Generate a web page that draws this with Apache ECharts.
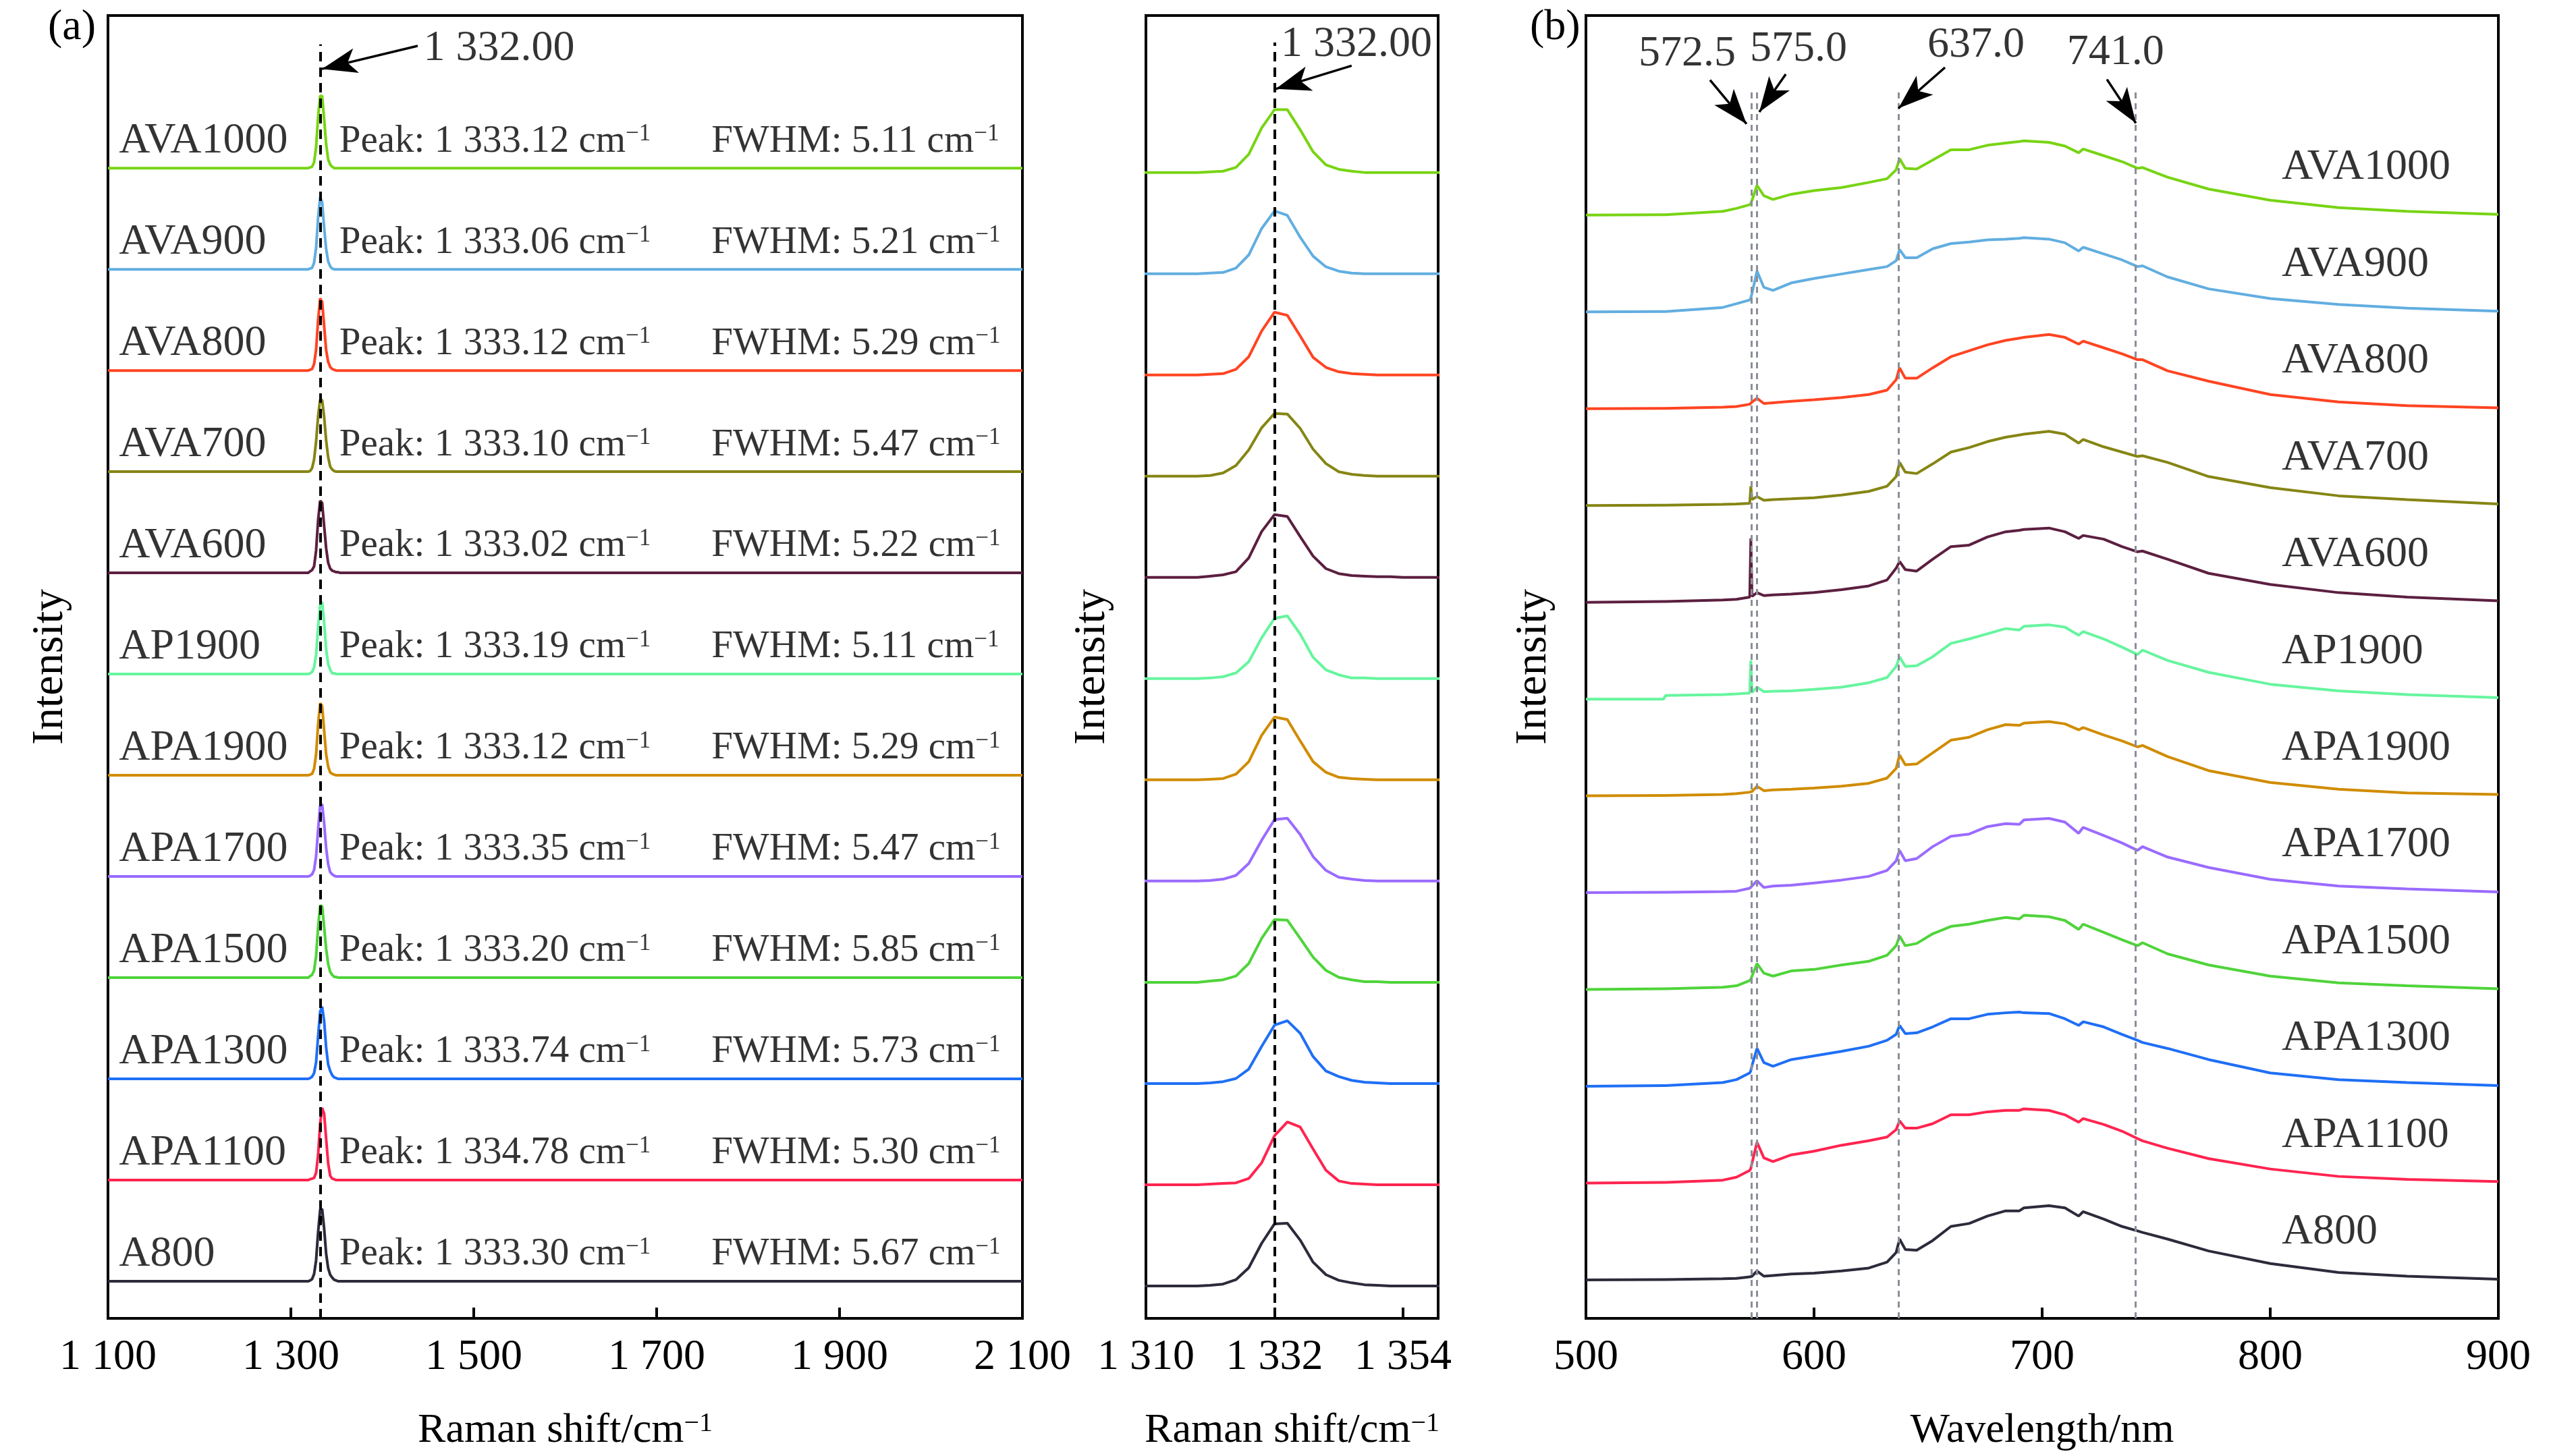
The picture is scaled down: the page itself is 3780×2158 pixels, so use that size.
<!DOCTYPE html>
<html>
<head>
<meta charset="utf-8">
<title>Raman and PL spectra</title>
<script src="https://cdn.jsdelivr.net/npm/echarts@6/dist/echarts.min.js"></script>
<style>
  html, body { margin: 0; padding: 0; background: #fff; }
  #chart { width: 3780px; height: 2158px; }
</style>
</head>
<body>
<div id="chart"></div>
<script>
// samples, listed bottom to top
const samples = ['A800', 'APA1100', 'APA1300', 'APA1500', 'APA1700', 'APA1900',
  'AP1900', 'AVA600', 'AVA700', 'AVA800', 'AVA900', 'AVA1000'];
const colors = ['#2b2b3b', '#ff2450', '#1f6ff5', '#4fd43a', '#9a6bff', '#d08c00',
  '#66f59e', '#5c1f40', '#858514', '#ff4422', '#62aee0', '#78d414'];
const peakShift = [1333.30, 1334.78, 1333.74, 1333.20, 1333.35, 1333.12,
  1333.19, 1333.02, 1333.10, 1333.12, 1333.06, 1333.12];
const fwhm = [5.67, 5.30, 5.73, 5.85, 5.47, 5.29, 5.11, 5.22, 5.47, 5.29, 5.21, 5.11];

// Raman shift (cm-1), normalised diamond peak
const ramanX = [1100, 1310, 1312.2, 1314.4, 1316.6, 1318.8, 1321.0, 1323.2, 1325.4, 1327.6,
  1329.8, 1332.0, 1334.2, 1336.4, 1338.6, 1340.8, 1343.0, 1345.2, 1347.4, 1349.6,
  1351.8, 1354.0, 1356.2, 1358.4, 1360, 2100];
const ramanA800 = [0, 0, 0, 0, 0, 0, 0.01, 0.03, 0.10, 0.29, 0.68, 0.99, 1.0, 0.73, 0.38, 0.18, 0.09, 0.05, 0.02, 0.01, 0, 0, 0, 0, 0, 0];
const ramanAPA1100 = [0, 0, 0, 0, 0, 0, 0.01, 0.02, 0.03, 0.10, 0.35, 0.78, 1.0, 0.92, 0.57, 0.23, 0.06, 0.02, 0.01, 0, 0, 0, 0, 0, 0, 0];
const ramanAPA1300 = [0, 0, 0, 0, 0, 0, 0.01, 0.03, 0.08, 0.23, 0.59, 0.93, 1.0, 0.80, 0.43, 0.20, 0.11, 0.05, 0.02, 0.01, 0, 0, 0, 0, 0, 0];
const ramanAPA1500 = [0, 0, 0, 0, 0, 0, 0.02, 0.04, 0.10, 0.30, 0.70, 1.0, 0.99, 0.70, 0.40, 0.19, 0.08, 0.04, 0.01, 0.01, 0, 0, 0, 0, 0, 0];
const ramanAPA1700 = [0, 0, 0, 0, 0, 0, 0.01, 0.03, 0.09, 0.28, 0.65, 0.98, 1.0, 0.74, 0.39, 0.17, 0.06, 0.03, 0.01, 0, 0, 0, 0, 0, 0, 0];
const ramanAPA1900 = [0, 0, 0, 0, 0, 0, 0.01, 0.02, 0.09, 0.29, 0.71, 1.0, 0.96, 0.62, 0.29, 0.12, 0.04, 0.02, 0.01, 0, 0, 0, 0, 0, 0, 0];
const ramanAP1900 = [0, 0, 0, 0, 0, 0, 0.01, 0.03, 0.09, 0.27, 0.65, 0.96, 1.0, 0.71, 0.34, 0.14, 0.06, 0.01, 0.01, 0, 0, 0, 0, 0, 0, 0];
const ramanAVA600 = [0, 0, 0, 0, 0, 0, 0.02, 0.04, 0.09, 0.31, 0.73, 1.0, 0.97, 0.65, 0.34, 0.14, 0.06, 0.03, 0.02, 0.01, 0.01, 0, 0, 0, 0, 0];
const ramanAVA700 = [0, 0, 0, 0, 0, 0, 0.01, 0.05, 0.17, 0.42, 0.77, 1.0, 0.99, 0.76, 0.43, 0.20, 0.07, 0.03, 0.01, 0, 0, 0, 0, 0, 0, 0];
const ramanAVA800 = [0, 0, 0, 0, 0, 0, 0.01, 0.02, 0.09, 0.29, 0.70, 1.0, 0.95, 0.62, 0.28, 0.12, 0.05, 0.02, 0.01, 0, 0, 0, 0, 0, 0, 0];
const ramanAVA900 = [0, 0, 0, 0, 0, 0, 0.01, 0.02, 0.09, 0.30, 0.72, 1.0, 0.93, 0.58, 0.28, 0.11, 0.04, 0.01, 0, 0, 0, 0, 0, 0, 0, 0];
const ramanAVA1000 = [0, 0, 0, 0, 0, 0, 0.01, 0.02, 0.08, 0.29, 0.71, 1.0, 1.0, 0.68, 0.33, 0.12, 0.05, 0.02, 0, 0, 0, 0, 0, 0, 0, 0];
const ramanSets = [ramanA800, ramanAPA1100, ramanAPA1300, ramanAPA1500, ramanAPA1700, ramanAPA1900,
  ramanAP1900, ramanAVA600, ramanAVA700, ramanAVA800, ramanAVA900, ramanAVA1000];

// PL wavelength (nm), normalised intensity
const wlX = [500, 534, 535, 560, 566, 571.8, 572.3, 572.8, 575, 578,
  582, 590, 600, 612, 624, 632, 636, 637.5, 640, 645,
  652, 660, 668, 676, 684, 690, 692, 703, 710, 716,
  718, 727, 735, 741.8, 744, 755, 773, 800, 830, 860, 900];
const plA800 = [0, 0.005, 0.005, 0.015, 0.02, 0.04, 0.045, 0.05, 0.12, 0.05,
  0.06, 0.08, 0.09, 0.12, 0.16, 0.24, 0.37, 0.55, 0.41, 0.40,
  0.53, 0.72, 0.76, 0.86, 0.93, 0.93, 0.97, 1.0, 0.97, 0.86,
  0.92, 0.82, 0.72, 0.66, 0.64, 0.55, 0.39, 0.22, 0.10, 0.05, 0.01];
const plAPA1100 = [0, 0.01, 0.01, 0.04, 0.08, 0.17, 0.20, 0.27, 0.55, 0.34,
  0.29, 0.38, 0.43, 0.51, 0.57, 0.62, 0.72, 0.84, 0.74, 0.74,
  0.80, 0.92, 0.92, 0.96, 0.98, 0.98, 1.0, 0.98, 0.92, 0.82,
  0.87, 0.79, 0.70, 0.60, 0.57, 0.47, 0.33, 0.19, 0.09, 0.05, 0.02];
const plAPA1300 = [0, 0.01, 0.01, 0.05, 0.09, 0.18, 0.21, 0.28, 0.51, 0.32,
  0.27, 0.36, 0.41, 0.47, 0.54, 0.62, 0.70, 0.82, 0.71, 0.72,
  0.80, 0.91, 0.91, 0.97, 0.99, 1.0, 0.99, 0.98, 0.91, 0.82,
  0.87, 0.80, 0.70, 0.62, 0.59, 0.51, 0.36, 0.18, 0.09, 0.05, 0.01];
const plAPA1500 = [0, 0.01, 0.01, 0.03, 0.05, 0.12, 0.14, 0.18, 0.35, 0.22,
  0.18, 0.25, 0.27, 0.33, 0.38, 0.46, 0.59, 0.72, 0.59, 0.62,
  0.75, 0.85, 0.88, 0.93, 0.97, 0.95, 1.0, 0.98, 0.93, 0.81,
  0.88, 0.77, 0.67, 0.59, 0.63, 0.48, 0.33, 0.18, 0.09, 0.05, 0.01];
const plAPA1700 = [0, 0.005, 0.005, 0.015, 0.02, 0.06, 0.07, 0.09, 0.16, 0.07,
  0.09, 0.10, 0.13, 0.17, 0.22, 0.30, 0.43, 0.57, 0.43, 0.46,
  0.62, 0.76, 0.79, 0.89, 0.93, 0.92, 0.98, 1.0, 0.95, 0.80,
  0.88, 0.77, 0.67, 0.57, 0.62, 0.48, 0.34, 0.18, 0.09, 0.05, 0.01];
const plAPA1900 = [0, 0.005, 0.005, 0.02, 0.03, 0.05, 0.055, 0.06, 0.13, 0.07,
  0.08, 0.09, 0.105, 0.13, 0.17, 0.24, 0.37, 0.55, 0.42, 0.43,
  0.58, 0.75, 0.79, 0.89, 0.96, 0.95, 0.98, 1.0, 0.97, 0.89,
  0.92, 0.82, 0.74, 0.66, 0.68, 0.53, 0.34, 0.18, 0.09, 0.04, 0.02];
const plAP1900 = [0, 0, 0.05, 0.06, 0.07, 0.08, 0.52, 0.09, 0.16, 0.10,
  0.105, 0.11, 0.13, 0.16, 0.22, 0.29, 0.44, 0.57, 0.44, 0.45,
  0.57, 0.75, 0.81, 0.88, 0.95, 0.93, 0.98, 1.0, 0.97, 0.86,
  0.91, 0.81, 0.70, 0.60, 0.66, 0.52, 0.36, 0.20, 0.11, 0.06, 0.02];
const plAVA600 = [0, 0.01, 0.01, 0.03, 0.04, 0.07, 0.86, 0.08, 0.13, 0.09,
  0.10, 0.11, 0.13, 0.17, 0.22, 0.30, 0.46, 0.55, 0.44, 0.42,
  0.58, 0.75, 0.77, 0.88, 0.95, 0.97, 0.98, 1.0, 0.95, 0.86,
  0.90, 0.85, 0.75, 0.68, 0.69, 0.58, 0.39, 0.24, 0.13, 0.07, 0.02];
const plAVA700 = [0, 0.005, 0.005, 0.015, 0.02, 0.03, 0.26, 0.08, 0.12, 0.07,
  0.08, 0.09, 0.105, 0.14, 0.19, 0.26, 0.39, 0.58, 0.45, 0.43,
  0.56, 0.72, 0.78, 0.86, 0.92, 0.95, 0.96, 1.0, 0.96, 0.84,
  0.89, 0.79, 0.72, 0.66, 0.67, 0.58, 0.39, 0.24, 0.13, 0.08, 0.02];
const plAVA800 = [0, 0.005, 0.005, 0.02, 0.03, 0.06, 0.07, 0.09, 0.14, 0.07,
  0.08, 0.10, 0.12, 0.15, 0.19, 0.25, 0.39, 0.55, 0.41, 0.41,
  0.55, 0.70, 0.78, 0.86, 0.92, 0.95, 0.96, 1.0, 0.96, 0.87,
  0.91, 0.82, 0.74, 0.66, 0.66, 0.51, 0.37, 0.19, 0.09, 0.04, 0.01];
const plAVA900 = [0, 0.005, 0.005, 0.06, 0.11, 0.16, 0.19, 0.25, 0.55, 0.33,
  0.29, 0.39, 0.45, 0.51, 0.57, 0.61, 0.69, 0.84, 0.73, 0.73,
  0.85, 0.92, 0.94, 0.97, 0.98, 0.99, 1.0, 0.98, 0.93, 0.82,
  0.87, 0.78, 0.70, 0.61, 0.62, 0.47, 0.31, 0.18, 0.10, 0.05, 0.01];
const plAVA1000 = [0, 0.005, 0.005, 0.05, 0.09, 0.14, 0.16, 0.20, 0.40, 0.26,
  0.21, 0.28, 0.33, 0.37, 0.44, 0.49, 0.61, 0.76, 0.63, 0.62,
  0.74, 0.88, 0.88, 0.94, 0.97, 0.99, 1.0, 0.98, 0.93, 0.84,
  0.89, 0.80, 0.72, 0.63, 0.64, 0.51, 0.35, 0.20, 0.10, 0.05, 0.01];
const plSets = [plA800, plAPA1100, plAPA1300, plAPA1500, plAPA1700, plAPA1900,
  plAP1900, plAVA600, plAVA700, plAVA800, plAVA900, plAVA1000];

// tick labels
const ticksA = [1100, 1300, 1500, 1700, 1900, 2100];
const ticksMid = [1310, 1332, 1354];
const plMarks = [572.5, 575.0, 637.0, 741.0];

const FONT = 'Liberation Serif';
const BLACK = '#000';

// stacking: offset of bottom trace and step between traces, per panel (y units)
const panelA = { yMax: 18.05, base: 0.514, step: 1.402 };
const panelM = { yMax: 20.76, base: 0.516, step: 1.613 };
const panelB = { yMax: 17.55, base: 0.518, step: 1.304 };

function spaced(v, digits) {
  if (v < 1000) return v.toFixed(digits);
  const k = Math.floor(v / 1000);
  const parts = (v - k * 1000).toFixed(digits).split('.');
  return k + ' ' + parts[0].padStart(3, '0') + (parts[1] ? '.' + parts[1] : '');
}

const richSup = {
  s: { fontFamily: FONT, fontSize: 40, color: BLACK, verticalAlign: 'top' }
};
const richSupSmall = {
  s: { fontFamily: FONT, fontSize: 35, color: BLACK, verticalAlign: 'top' }
};

function gridBox(left, width) {
  return { left: left, top: 23, width: width, height: 1931, show: true,
    borderColor: BLACK, borderWidth: 4, backgroundColor: 'transparent', outerBoundsMode: 'none' };
}

function xAxisBase(gi, name) {
  return {
    gridIndex: gi, type: 'value',
    name: name, nameLocation: 'middle', nameGap: 136,
    nameTextStyle: { fontFamily: FONT, fontSize: 62, color: BLACK,
      rich: { a: { fontFamily: FONT, fontSize: 62, color: BLACK }, s: richSup.s } },
    axisLine: { show: true, onZero: false, lineStyle: { color: BLACK, width: 4 } },
    axisTick: { show: true, inside: true, length: 16, lineStyle: { color: BLACK, width: 4 } },
    axisLabel: { fontFamily: FONT, fontSize: 64, color: BLACK, margin: 26 },
    splitLine: { show: false }
  };
}

function yAxisBase(gi, yMax, gap) {
  return {
    gridIndex: gi, type: 'value', min: 0, max: yMax,
    name: 'Intensity', nameLocation: 'middle', nameGap: gap,
    nameTextStyle: { fontFamily: FONT, fontSize: 66, color: BLACK },
    axisLine: { show: false }, axisTick: { show: false },
    axisLabel: { show: false }, splitLine: { show: false }
  };
}

const xA = xAxisBase(0, '{a|Raman shift/cm}{s|−1}');
xA.min = 1100; xA.max = 2100;
xA.axisLabel.customValues = ticksA;
xA.axisLabel.formatter = v => spaced(v, 0);
xA.axisTick.customValues = ticksA.slice(1, -1);

const xM = xAxisBase(1, '{a|Raman shift/cm}{s|−1}');
xM.min = 1310; xM.max = 1360;
xM.axisLabel.customValues = ticksMid;
xM.axisLabel.formatter = v => spaced(v, 0);
xM.axisTick.customValues = ticksMid.slice(1);

const xB = xAxisBase(2, 'Wavelength/nm');
xB.min = 500; xB.max = 900; xB.interval = 100;

const series = [];
samples.forEach((s, i) => {
  const common = { type: 'line', showSymbol: false, symbol: 'none', silent: true, animation: false,
    lineStyle: { color: colors[i], width: 4 }, z: 3 };
  series.push(Object.assign({}, common, { name: s + ' a', xAxisIndex: 0, yAxisIndex: 0,
    data: ramanX.map((x, j) => [x, ramanSets[i][j] + panelA.base + i * panelA.step]) }));
  series.push(Object.assign({}, common, { name: s + ' m', xAxisIndex: 1, yAxisIndex: 1,
    data: ramanX.map((x, j) => [x, ramanSets[i][j] + panelM.base + i * panelM.step]) }));
  series.push(Object.assign({}, common, { name: s + ' b', xAxisIndex: 2, yAxisIndex: 2,
    data: wlX.map((x, j) => [x, plSets[i][j] + panelB.base + i * panelB.step]) }));
});

const textLabel = {
  show: true, position: 'right', distance: 0, formatter: p => p.name,
  fontFamily: FONT, fontSize: 64, color: BLACK, rich: richSup
};
const smallLabel = { fontSize: 57, rich: richSupSmall };
const arrowLine = { type: 'solid', width: 3.5, color: BLACK };
function arrow(from, to) {
  return [{ coord: from, lineStyle: arrowLine },
          { coord: to, symbol: 'arrow', symbolSize: [28, 52] }];
}
function vline(x, top, style) {
  return [{ coord: [x, 0], lineStyle: style }, { coord: [x, top] }];
}
function markLines(items) {
  return { silent: true, animation: false, symbol: ['none', 'none'], label: { show: false },
    emphasis: { disabled: true }, data: items };
}
const blackDash = { type: [14, 9], width: 4, color: BLACK };
const greyDash = { type: [9, 7], width: 3, color: '#8a8f99' };

// panel (a) left: names, peak and FWHM text
const textA = [];
samples.forEach((s, i) => {
  const y = panelA.base + i * panelA.step + 0.37;
  textA.push({ value: [1112, y], name: s });
  textA.push({ value: [1353, y], name: 'Peak: ' + spaced(peakShift[i], 2) + ' cm{s|−1}', label: smallLabel });
  textA.push({ value: [1760, y], name: 'FWHM: ' + fwhm[i].toFixed(2) + ' cm{s|−1}', label: smallLabel });
});
textA.push({ value: [1445, 17.59], name: '1 332.00' });
series.push({ type: 'scatter', xAxisIndex: 0, yAxisIndex: 0, symbolSize: 0, silent: true,
  animation: false, z: 10, label: textLabel, data: textA,
  markLine: markLines([vline(1332, 17.65, blackDash), arrow([1438.7, 17.63], [1334, 17.31])]) });

// panel (a) right zoom
series.push({ type: 'scatter', xAxisIndex: 1, yAxisIndex: 1, symbolSize: 0, silent: true,
  animation: false, z: 10, label: textLabel, data: [{ value: [1333.1, 20.30], name: '1 332.00' }],
  markLine: markLines([vline(1332, 20.33, blackDash), arrow([1345.2, 19.96], [1332.2, 19.59])]) });

// panel (b)
const textB = samples.map((s, i) => ({ value: [805, panelB.base + i * panelB.step + 0.64], name: s }));
textB.push({ value: [523.1, 17.03], name: plMarks[0].toFixed(1) });
textB.push({ value: [571.9, 17.09], name: plMarks[1].toFixed(1) });
textB.push({ value: [649.7, 17.15], name: plMarks[2].toFixed(1) });
textB.push({ value: [710.9, 17.05], name: plMarks[3].toFixed(1) });
series.push({ type: 'scatter', xAxisIndex: 2, yAxisIndex: 2, symbolSize: 0, silent: true,
  animation: false, z: 10, label: textLabel, data: textB,
  markLine: markLines(plMarks.map(m => vline(m, 16.52, greyDash)).concat([
    arrow([554.4, 16.68], [570.4, 16.09]),
    arrow([587.6, 16.76], [576.0, 16.25]),
    arrow([657.4, 16.85], [637.0, 16.30]),
    arrow([728.4, 16.69], [741.1, 16.10])
  ])) });

const chart = echarts.init(document.getElementById('chart'), null, { renderer: 'canvas' });
chart.setOption({
  backgroundColor: '#fff',
  animation: false,
  title: [
    { text: '(a)', left: 66, top: 4, textStyle: { fontFamily: FONT, fontSize: 64, fontWeight: 'normal', color: BLACK } },
    { text: '(b)', left: 2262, top: 4, textStyle: { fontFamily: FONT, fontSize: 64, fontWeight: 'normal', color: BLACK } }
  ],
  grid: [gridBox(160, 1355), gridBox(1698, 433), gridBox(2350, 1352)],
  xAxis: [xA, xM, xB],
  yAxis: [yAxisBase(0, panelA.yMax, 52), yAxisBase(1, panelM.yMax, 46), yAxisBase(2, panelB.yMax, 44)],
  series: series
});
</script>
</body>
</html>
